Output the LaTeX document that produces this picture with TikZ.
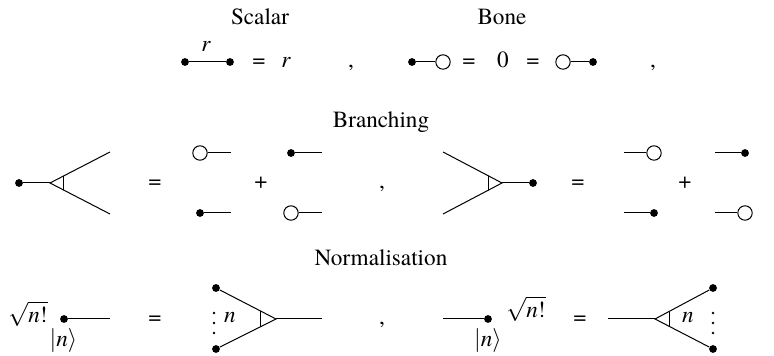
\documentclass[tikz,border=0pt]{standalone}
\usepackage{fontspec}
\setmainfont{texgyretermes}[Extension=.otf,UprightFont=*-regular,ItalicFont=*-italic,BoldFont=*-bold,BoldItalicFont=*-bolditalic]
\usetikzlibrary{calc}
\begin{document}
\begin{tikzpicture}[x=0.5pt,y=-0.5pt,
  dot/.style={circle,fill=black,draw=none,inner sep=0pt,minimum size=3.9pt},
  hollow/.style={circle,draw=black,fill=white,line width=0.5pt,inner sep=0pt,minimum size=7.2pt},
  wire/.style={line width=0.5pt},
  txt/.style={inner sep=0pt,anchor=base,font=\fontsize{11.6}{13}\selectfont},
  ctxt/.style={inner sep=0pt,anchor=center,font=\fontsize{11.6}{13}\selectfont},
  pip/.style={circle,fill=black,inner sep=0pt,minimum size=1.4pt}]
\useasboundingbox (0,0) rectangle (774,356);

% ---------- Row 1 ----------
\node[txt] (tScalar) at (260,25) {Scalar};
\node[txt] (tBone) at (502,25) {Bone};

\node[dot] (s1) at (185,62) {};
\node[dot] (s2) at (230,62) {};
\draw[wire] (s1) -- (s2);
\node[txt] (rlab) at (206,52) {\itshape r};
\node[txt] (eqA) at (259,68) {=};
\node[txt] (rval) at (286,68) {\itshape r};
\node[txt] (cmA) at (351,68) {,};

\node[dot] (b1) at (412,62) {};
\node[hollow] (b2) at (443,62) {};
\draw[wire] (b1) -- (b2);
\node[txt] (eqB) at (469,68) {=};
\node[txt] (zero) at (503,68) {0};
\node[txt] (eqC) at (533,68) {=};
\node[hollow] (b3) at (563,62) {};
\node[dot] (b4) at (593,62) {};
\draw[wire] (b3) -- (b4);
\node[txt] (cmB) at (653,68) {,};

% ---------- Row 2 ----------
\node[txt] (tBranch) at (381,128) {Branching};

% left branching
\node[dot] (L0) at (19,183) {};
\coordinate (v1) at (50,183);
\coordinate (e1a) at (110,152);
\coordinate (e1b) at (110,214);
\draw[wire] (L0) -- (v1);
\draw[wire] (e1a) -- (v1) -- (e1b);
\coordinate (t1a) at ($(v1)!0.2333!(e1a)$);
\coordinate (t1b) at ($(v1)!0.2333!(e1b)$);
\draw[wire] (t1a) -- (t1b);
\node[txt] (eqD) at (155,189) {=};
\node[hollow] (o1) at (200,153) {};
\coordinate (o1e) at (231,153);
\draw[wire] (o1) -- (o1e);
\node[dot] (d1) at (291,153) {};
\coordinate (d1e) at (322,153);
\draw[wire] (d1) -- (d1e);
\node[txt] (plA) at (261,189) {+};
\node[dot] (d2) at (200,213) {};
\coordinate (d2e) at (231,213);
\draw[wire] (d2) -- (d2e);
\node[hollow] (o2) at (291,213) {};
\coordinate (o2e) at (322,213);
\draw[wire] (o2) -- (o2e);
\node[txt] (cmC) at (382,189) {,};

% right branching
\coordinate (e2a) at (443,152);
\coordinate (e2b) at (443,214);
\coordinate (v2) at (502,183);
\node[dot] (R0) at (533,183) {};
\draw[wire] (e2a) -- (v2) -- (e2b);
\draw[wire] (v2) -- (R0);
\coordinate (t2a) at ($(v2)!0.2373!(e2a)$);
\coordinate (t2b) at ($(v2)!0.2373!(e2b)$);
\draw[wire] (t2a) -- (t2b);
\node[txt] (eqE) at (578,189) {=};
\coordinate (o3s) at (624,153);
\node[hollow] (o3) at (654,153) {};
\draw[wire] (o3s) -- (o3);
\coordinate (d3s) at (715,153);
\node[dot] (d3) at (745,153) {};
\draw[wire] (d3s) -- (d3);
\node[txt] (plB) at (685,189) {+};
\coordinate (d4s) at (624,213);
\node[dot] (d4) at (654,213) {};
\draw[wire] (d4s) -- (d4);
\coordinate (o4s) at (715,213);
\node[hollow] (o4) at (745,213) {};
\draw[wire] (o4s) -- (o4);
\node[txt] (cmD) at (776,189) {,};

% ---------- Row 3 ----------
\node[txt] (tNorm) at (381,266) {Normalisation};

% left normalisation
\node[txt] (sqA) at (28,323) {$\sqrt{\mbox{\itshape n}\mbox{!}}$};
\node[dot] (n1) at (64,319) {};
\coordinate (n1e) at (110,319);
\draw[wire] (n1) -- (n1e);
\node[ctxt] (ketA) at (63.5,341) {$|\mbox{\itshape n}\rangle$};
\node[txt] (eqF) at (155,325) {=};
\node[dot] (m1) at (216,288) {};
\node[dot] (m2) at (216,349) {};
\coordinate (v3) at (276,319);
\coordinate (v3e) at (322,319);
\draw[wire] (m1) -- (v3) -- (m2);
\draw[wire] (v3) -- (v3e);
\coordinate (t3a) at ($(v3)!0.2667!(216,288)$);
\coordinate (t3b) at ($(v3)!0.2667!(216,349)$);
\draw[wire] (t3a) -- (t3b);
\node[pip] (p1) at (214,313) {};
\node[pip] (p2) at (214,323) {};
\node[pip] (p3) at (214,333) {};
\node[txt] (nA) at (230,323) {\itshape n};
\node[txt] (cmE) at (382,325) {,};

% right normalisation
\coordinate (n2s) at (443,319);
\node[dot] (n2) at (488,319) {};
\draw[wire] (n2s) -- (n2);
\node[ctxt] (ketB) at (488,341) {$|\mbox{\itshape n}\rangle$};
\node[txt] (sqB) at (526,318) {$\sqrt{\mbox{\itshape n}\mbox{!}}$};
\node[txt] (eqG) at (580,325) {=};
\coordinate (v4s) at (608,319);
\coordinate (v4) at (655,319);
\node[dot] (m3) at (713,288) {};
\node[dot] (m4) at (713,349) {};
\draw[wire] (v4s) -- (v4);
\draw[wire] (m3) -- (v4) -- (m4);
\coordinate (t4a) at ($(v4)!0.2414!(713,288)$);
\coordinate (t4b) at ($(v4)!0.2414!(713,349)$);
\draw[wire] (t4a) -- (t4b);
\node[txt] (nB) at (688,323) {\itshape n};
\node[pip] (p4) at (713,313) {};
\node[pip] (p5) at (713,323) {};
\node[pip] (p6) at (713,333) {};
\node[txt] (cmF) at (776,325) {,};
\end{tikzpicture}
\end{document}
